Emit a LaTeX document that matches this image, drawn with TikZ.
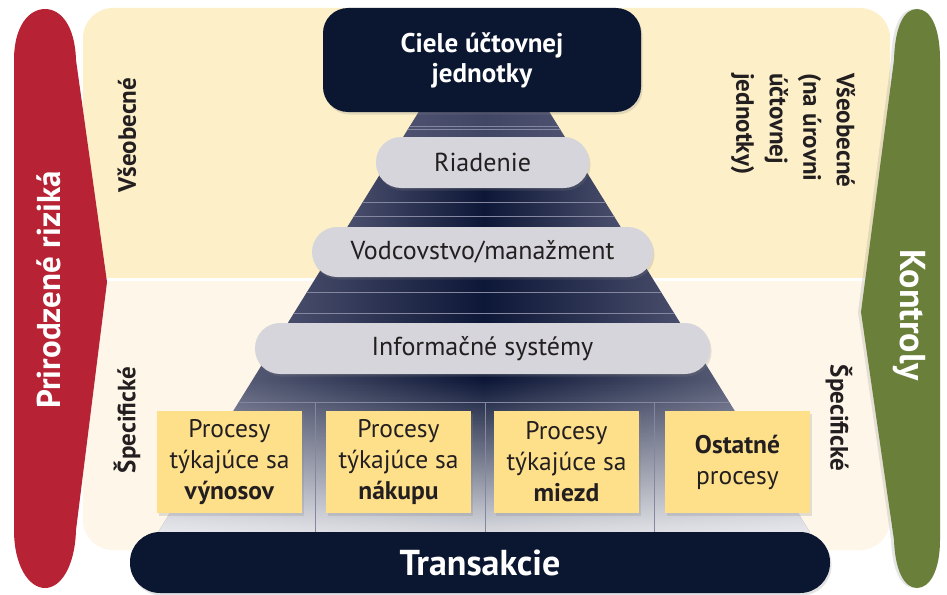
\documentclass[tikz,border=0pt]{standalone}
\usepackage{fontspec}
\setmainfont{PT Sans}
\usetikzlibrary{shadows,fadings}

\definecolor{panelTop}{HTML}{FDF0C9}
\definecolor{panelBot}{HTML}{FEF6E9}
\definecolor{riskRed}{HTML}{B72235}
\definecolor{ctrlGreen}{HTML}{6A7F3A}
\definecolor{navy}{HTML}{0B1731}
\definecolor{pillGrey}{HTML}{D5D5DB}
\definecolor{procYellow}{HTML}{FEE08B}
\definecolor{ink}{HTML}{231F20}
\definecolor{pyrEdge}{HTML}{4E5270}
\definecolor{pyrCore}{HTML}{0D1737}
\definecolor{pyrLine}{HTML}{8587A0}

\tikzset{
  softshadow/.style={drop shadow={opacity=0.22, shadow xshift=1.5pt, shadow yshift=-2.5pt}},
  pill/.style={softshadow, fill=pillGrey, rounded corners=25pt, text=ink,
    font=\fontsize{26}{30}\selectfont, inner sep=0pt},
  procbox/.style={softshadow, fill=procYellow, text=ink, align=center,
    minimum width=145pt, minimum height=102pt, inner sep=0pt,
    font=\fontsize{25.5}{31}\selectfont},
  darkbar/.style={softshadow, fill=navy, text=white, inner sep=0pt},
  sidelabel/.style={text=ink, font=\fontsize{25}{33.5}\selectfont\bfseries},
  bandline/.style={draw=pyrLine, line width=0.6pt},
}

\begin{document}
\begin{tikzpicture}[x=1pt,y=-1pt]
\useasboundingbox (0,0) rectangle (947,594);
\fill[white] (0,0) rectangle (947,594);

% background panel: general (upper) and specific (lower) halves
\begin{scope}
  \clip (0,0) rectangle (947,277);
  \fill[panelTop, rounded corners=30pt] (83,8) rectangle (890,550);
\end{scope}
\begin{scope}
  \clip (0,281) rectangle (947,594);
  \fill[panelBot, rounded corners=30pt] (83,8) rectangle (890,550);
\end{scope}

% pyramid outline
\coordinate (pTL) at (418.6,112);
\coordinate (pTR) at (549.4,112);
\coordinate (pBL) at (158.2,532);
\coordinate (pBR) at (809.8,532);

\begin{scope}
  \clip (pTL) -- (pTR) -- (pBR) -- (pBL) -- cycle;
  % shaded bands
  \shade[left color=pyrEdge, right color=pyrEdge, middle color=pyrEdge!80!pyrCore]
    (400,110) rectangle (570,162);
  \shade[left color=pyrEdge, right color=pyrEdge, middle color=pyrCore]
    (340,162) rectangle (628,252);
  \shade[left color=pyrEdge, right color=pyrEdge, middle color=pyrCore]
    (270,252) rectangle (698,348);
  \shade[left color=pyrEdge!80!white, right color=pyrEdge!80!white, middle color=pyrCore]
    (150,348) rectangle (818,534);
  \fill[white, fill opacity=0.85, path fading=north] (150,380) rectangle (818,534);
  % thin band lines
  \foreach \yy in {126,129,202,216,292,313,402}
    \draw[bandline] (140,\yy) -- (830,\yy);
  \foreach \xx in {315,485,654}
    \draw[bandline] (\xx,402) -- (\xx,532);
\end{scope}

% inherent risks (left) and controls (right)
\fill[riskRed]
  (14,60) .. controls (14,26) and (29,9) .. (45,9)
  .. controls (61,9) and (75,26) .. (76,60)
  -- (107,282) -- (76,530)
  .. controls (75,566) and (61,588) .. (45,588)
  .. controls (29,588) and (14,566) .. (14,530) -- cycle;
\fill[ctrlGreen, drop shadow={opacity=0.2, shadow xshift=-3pt, shadow yshift=0pt}]
  (940,60) .. controls (940,26) and (930,9) .. (917,9)
  .. controls (904,9) and (895,26) .. (894,60)
  -- (861,312) -- (894,540)
  .. controls (895,570) and (904,588) .. (917,588)
  .. controls (930,588) and (940,570) .. (940,540) -- cycle;
\node[rotate=90, text=white, font=\fontsize{33}{34}\selectfont\bfseries]
  (risks) at (49,290) {Prirodzené riziká};
\node[rotate=-90, text=white, font=\fontsize{36}{37}\selectfont\bfseries]
  (controls) at (909,315) {Kontroly};

% side labels
\node[sidelabel, rotate=90] (genL) at (127,135) {Všeobecné};
\node[sidelabel, rotate=90] (specL) at (127,420) {Špecifické};
\node[sidelabel, rotate=-90, anchor=west, align=left, inner sep=0pt]
  (genR) at (793,73) {Všeobecné\\(na úrovni\\účtovnej\\jednotky)};
\node[sidelabel, rotate=-90] (specR) at (839,418) {Špecifické};

% pyramid levels
\node[darkbar, rounded corners=25pt, minimum width=318pt, minimum height=104pt,
  align=center, font=\fontsize{27}{30}\selectfont\bfseries]
  (goals) at (482,60) {Ciele účtovnej\\jednotky};
\node[pill, minimum width=213pt, minimum height=51pt] (mgmt) at (482.5,162.5) {Riadenie};
\node[pill, minimum width=341pt, minimum height=50pt] (lead) at (482.5,252) {Vodcovstvo/manažment};
\node[pill, minimum width=455pt, minimum height=51pt] (info) at (482.5,348.5) {Informačné systémy};

\node[procbox] (rev) at (229.5,462) {Procesy\\týkajúce sa\\\textbf{výnosov}};
\node[procbox] (pur) at (398.5,462) {Procesy\\týkajúce sa\\\textbf{nákupu}};
\node[procbox] (pay) at (566.5,462) {Procesy\\týkajúce sa\\\textbf{miezd}};
\node[procbox] (oth) at (737.5,462) {\textbf{Ostatné}\\procesy};

\node[darkbar, rounded corners=30pt, minimum width=700pt, minimum height=61pt,
  font=\fontsize{36}{37}\selectfont\bfseries] (trans) at (480,562.5) {Transakcie};
\end{tikzpicture}
\end{document}
